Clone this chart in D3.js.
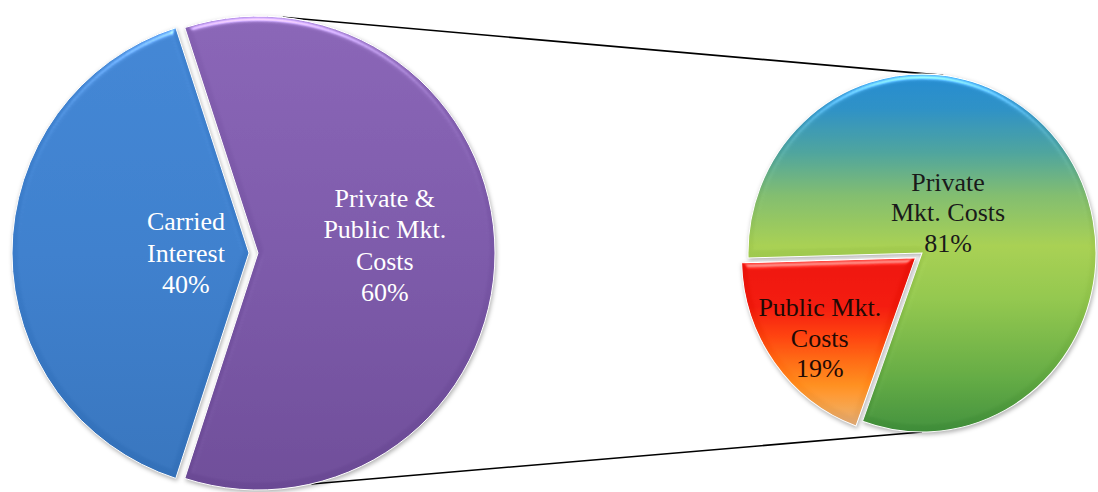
<!DOCTYPE html>
<html><head><meta charset="utf-8">
<script src="https://cdn.jsdelivr.net/npm/d3@7"></script>
<style>html,body{margin:0;padding:0;background:#fff;overflow:hidden}</style>
</head><body>
<svg id="chart" width="1098" height="492"></svg>
<script>
// ---------- data ----------
const mainCategories = ["Carried Interest", "Private & Public Mkt. Costs"];
const mainValues = [40, 60];
const mainLabelLines = [["Carried", "Interest", "40%"], ["Private &", "Public Mkt.", "Costs", "60%"]];
const subCategories = ["Private Mkt. Costs", "Public Mkt. Costs"];
const subValues = [81, 19];
const subLabelLines = [["Private", "Mkt. Costs", "81%"], ["Public Mkt.", "Costs", "19%"]];

// ---------- layout ----------
const deg = Math.PI / 180;
const main = {cx: 249, cy: 253, rx: 237, ry: 237, start: 198 * deg, explode: [0, 9],
  labelPos: [[270, 0.266], [86.6, 0.536]], labelColor: ["#ffffff", "#ffffff"], lineH: 31.5};
const sub = {cx: 922, cy: 253, rx: 174, ry: 179, start: 268.4 * deg, explode: [0, 8],
  labelPos: [[33.7, 0.27], [230.8, 0.71]], labelColor: ["#1a1a1a", "#1f0a05"], lineH: 30.5};
const fontFamily = "'Liberation Serif','Times New Roman',serif";
const fontSize = 26;

const svg = d3.select("#chart");
const defs = svg.append("defs");

// gradients in each slice's local (pre-scale) coordinates
function linGrad(id, y1, y2, stops) {
  const g = defs.append("linearGradient").attr("id", id)
    .attr("gradientUnits", "userSpaceOnUse")
    .attr("x1", 0).attr("x2", 0).attr("y1", y1).attr("y2", y2);
  stops.forEach(([o, c]) => g.append("stop").attr("offset", o).attr("stop-color", c));
}
linGrad("gBlue", -main.rx, main.rx,
  [[0, "#3f82d0"], [0.5, "#3a7bc8"], [1, "#3370b8"]]);
linGrad("gPurple", -main.rx, main.rx,
  [[0, "#8561b2"], [0.5, "#7856a5"], [1, "#6a4994"]]);
linGrad("gGreen", -sub.rx, sub.rx,
  [[0, "#2086cc"], [0.1, "#2a8cc0"], [0.22, "#4a9f98"], [0.34, "#7db86a"], [0.48, "#a3cb4f"],
   [0.63, "#8ec24a"], [0.85, "#5fa640"], [1, "#3e8c39"]]);
linGrad("gRed", -4, sub.rx - 6,
  [[0, "#e8100a"], [0.3, "#ee170a"], [0.45, "#f83a0a"], [0.6, "#ff6510"], [0.74, "#ff8a1a"],
   [0.87, "#f0a04a"], [1, "#d6a880"]]);

const mainFills = ["url(#gBlue)", "url(#gPurple)"];
const subFills = ["url(#gGreen)", "url(#gRed)"];

// bevel + shadow filter
const f = defs.append("filter").attr("id", "bevel")
  .attr("color-interpolation-filters", "sRGB")
  .attr("x", "-10%").attr("y", "-10%").attr("width", "120%").attr("height", "125%");
f.append("feGaussianBlur").attr("in", "SourceAlpha").attr("stdDeviation", 3).attr("result", "blur");
const sp = f.append("feSpecularLighting").attr("in", "blur").attr("surfaceScale", 4)
  .attr("specularConstant", 0.9).attr("specularExponent", 25)
  .attr("lighting-color", "#ffffff").attr("result", "spec");
sp.append("feDistantLight").attr("azimuth", 270).attr("elevation", 35);
f.append("feComposite").attr("in", "spec").attr("in2", "SourceAlpha").attr("operator", "in").attr("result", "specIn");
f.append("feComposite").attr("in", "SourceGraphic").attr("in2", "specIn").attr("operator", "arithmetic")
  .attr("k1", 0).attr("k2", 1).attr("k3", 0.5).attr("k4", 0).attr("result", "lit");
f.append("feDropShadow").attr("in", "lit").attr("dx", 1).attr("dy", 2).attr("stdDeviation", 2)
  .attr("flood-color", "#000").attr("flood-opacity", 0.3);

// point on an (elliptical) pie edge, d3 angle convention
function edgePt(p, a, off) {
  const o = off || [0, 0];
  return [p.cx + o[0] + p.rx * Math.sin(a), p.cy + o[1] - p.ry * Math.cos(a)];
}

function drawPie(p, values, fills, labels) {
  const arcs = d3.pie().sort(null).startAngle(p.start).endAngle(p.start + 2 * Math.PI)(values);
  const arc = d3.arc().innerRadius(0).outerRadius(p.rx);
  const sy = p.ry / p.rx;
  const offsets = arcs.map((d, i) => {
    const m = (d.startAngle + d.endAngle) / 2;
    return [p.explode[i] * Math.sin(m), -p.explode[i] * Math.cos(m) * sy];
  });
  const g = svg.append("g");
  arcs.forEach((d, i) => {
    g.append("path")
      .attr("d", arc(d))
      .attr("transform", `translate(${p.cx + offsets[i][0]},${p.cy + offsets[i][1]}) scale(1,${sy})`)
      .attr("fill", fills[i])
      .attr("stroke", "#ffffff").attr("stroke-width", 1)
      .attr("filter", "url(#bevel)");
  });
  arcs.forEach((d, i) => {
    const [angDeg, fr] = p.labelPos[i];
    const [lx, ly] = edgePt({cx: p.cx, cy: p.cy, rx: p.rx * fr, ry: p.ry * fr}, angDeg * deg, offsets[i]);
    const lines = labels[i];
    const t = svg.append("text")
      .attr("text-anchor", "middle")
      .attr("font-family", fontFamily).attr("font-size", fontSize)
      .attr("fill", p.labelColor[i]);
    lines.forEach((s, k) => {
      t.append("tspan").attr("x", lx)
        .attr("y", ly + (k - (lines.length - 1) / 2) * p.lineH)
        .attr("dominant-baseline", "central")
        .text(s);
    });
  });
  return {arcs, offsets};
}

// connector lines (drawn first, under the pies)
const conn = svg.append("g");
const mainPurpleOff = [main.explode[1], 0];
const connStartAngles = [6 * deg, 167 * deg];
const connEndAngles = [7 * deg, 180 * deg];
connStartAngles.forEach((a, i) => {
  const s = edgePt(main, a, mainPurpleOff);
  const e = edgePt(sub, connEndAngles[i]);
  conn.append("line").attr("x1", s[0]).attr("y1", s[1]).attr("x2", e[0]).attr("y2", e[1])
    .attr("stroke", "#000").attr("stroke-width", 1.6);
});

drawPie(main, mainValues, mainFills, mainLabelLines);
drawPie(sub, subValues, subFills, subLabelLines);
</script>
</body></html>
